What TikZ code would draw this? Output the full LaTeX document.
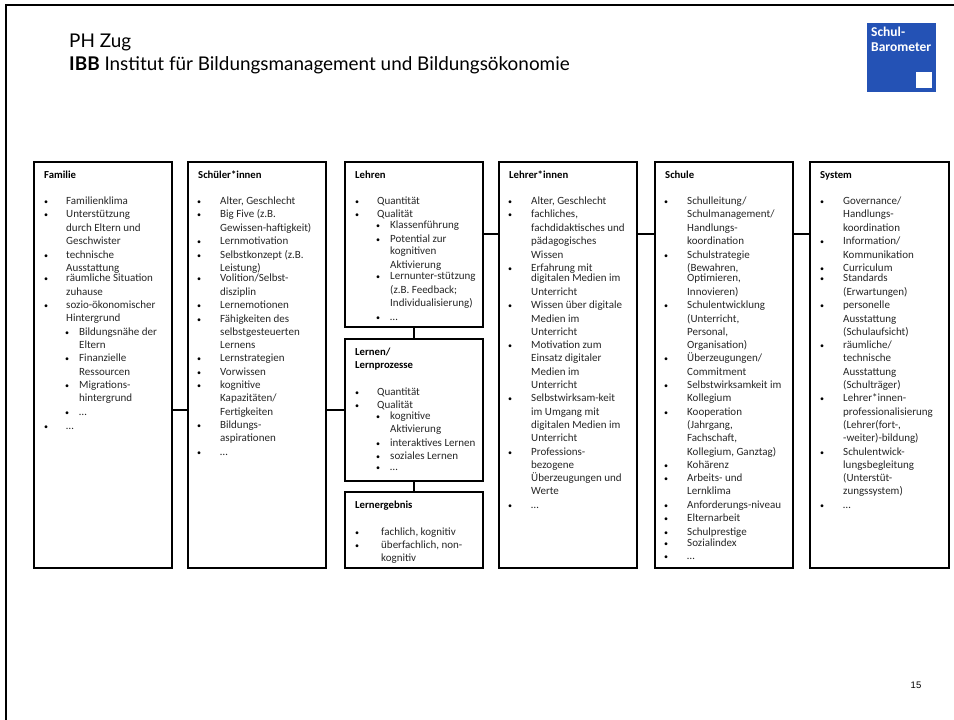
\documentclass[tikz,border=0pt]{standalone}
\usepackage{fontspec}
\setmainfont{Carlito}
\newfontfamily\headfont{Lato}
\newfontfamily\numfont{Liberation Sans}
\definecolor{logoblue}{HTML}{2452B5}
\tikzset{
  panel/.style={draw,line width=2.5pt,anchor=north west,inner sep=0,outer sep=0,fill=white},
  link/.style={line width=2.5pt},
  rowtxt/.style={anchor=west,inner sep=0,text height=7,text depth=0.5,font=\fontsize{11}{13}\selectfont,text=black!85},
  rowmark/.style={rowtxt,font=\fontsize{8}{9}\selectfont,text=black},
  rowhead/.style={rowtxt,font=\fontsize{10.7}{13}\selectfont\bfseries,text=black},
  headtxt/.style={anchor=west,inner sep=0,text height=14,text depth=4,font=\headfont\fontsize{18.9}{22}\selectfont},
  logotxt/.style={anchor=west,inner sep=0,text=white,text height=9,text depth=2.5,font=\fontsize{13.5}{15}\selectfont\bfseries},
}
\begin{document}
\begin{tikzpicture}[x=1pt,y=-1pt]
  \useasboundingbox (0,0) rectangle (954,720);

  % Slide frame and header
  \coordinate (framebl) at (6,720);
  \coordinate (frametl) at (6,5);
  \coordinate (frametr) at (954,5);
  \draw[link] (framebl) -- (frametl) -- (frametr);
  \node[headtxt] (phzug) at (69,42) {PH Zug};
  \node[headtxt] (ibb) at (69,65) {\textbf{IBB} Institut für Bildungsmanagement und Bildungsökonomie};
  \node[fill=logoblue,minimum size=69,inner sep=0,anchor=north west] (logo) at (867,23) {};
  \node[fill=white,minimum size=16,inner sep=0,anchor=south east] (logomark) at (932,88) {};
  \node[logotxt] (logoa) at (871,33) {Schul-};
  \node[logotxt] (logob) at (871,48) {Barometer};
  \node[anchor=center,inner sep=0,font=\numfont\fontsize{9.5}{11}\selectfont] (pagenr) at (916,685) {15};

  % Boxes
  \node[panel,minimum width=138,minimum height=406] (familie) at (34,162) {};
  \node[panel,minimum width=138,minimum height=406] (schueler) at (188,162) {};
  \node[panel,minimum width=138,minimum height=165] (lehren) at (345,162) {};
  \node[panel,minimum width=138,minimum height=142] (lernen) at (345,339) {};
  \node[panel,minimum width=138,minimum height=76] (ergebnis) at (345,492) {};
  \node[panel,minimum width=138,minimum height=406] (lehrer) at (499,162) {};
  \node[panel,minimum width=138,minimum height=406] (schule) at (655,162) {};
  \node[panel,minimum width=139,minimum height=406] (system) at (810,162) {};

  % Connectors
  \coordinate (linkrow) at (0,234);
  \draw[link] (familie.east |- lernen.west) -- (schueler.west |- lernen.west);
  \draw[link] (schueler.east |- lernen.west) -- (lernen.west);
  \draw[link] (lehren.south) -- (lernen.north);
  \draw[link] (lernen.south) -- (ergebnis.north);
  \draw[link] (lehren.east |- linkrow) -- (lehrer.west |- linkrow);
  \draw[link] (lehrer.east |- linkrow) -- (schule.west |- linkrow);
  \draw[link] (schule.east |- linkrow) -- (system.west |- linkrow);

  % Titles
  \node[rowhead] (familiehead) at (44,175) {Familie};
  \node[rowhead] (schuelerhead) at (198,175) {Schüler*innen};
  \node[rowhead] (lehrenhead) at (355,175) {Lehren};
  \node[rowhead] (lernenhead) at (355,352) {Lernen/};
  \node[rowhead] (lernenheadb) at (355,365) {Lernprozesse};
  \node[rowhead] (ergebnishead) at (355,505) {Lernergebnis};
  \node[rowhead] (lehrerhead) at (509,175) {Lehrer*innen};
  \node[rowhead] (schulehead) at (665,175) {Schule};
  \node[rowhead] (systemhead) at (820,175) {System};

  % Familie
  \foreach \y [count=\i] in {201,214,255,278,305,426}{%
      \node[rowmark] (familieb\i) at (44,\y) {•};}
  \foreach \y/\txt [count=\i] in {201/Familienklima,214/Unterstützung,228/durch Eltern und,241/Geschwister,255/technische,268/Ausstattung,278/räumliche Situation,292/zuhause,305/sozio-ökonomischer,318/Hintergrund,426/…}{%
      \node[rowtxt] (familiet\i) at (66,\y) {\txt};}
  \foreach \y [count=\i] in {332,358,385,412}{%
      \node[rowmark] (familiesb\i) at (65,\y) {•};}
  \foreach \y/\txt [count=\i] in {332/Bildungsnähe der,345/Eltern,358/Finanzielle,372/Ressourcen,385/Migrations-,398/hintergrund,412/…}{%
      \node[rowtxt] (families\i) at (79,\y) {\txt};}

  % Schueler
  \foreach \y [count=\i] in {201,214,241,255,278,305,319,358,372,385,425,452}{%
      \node[rowmark] (schuelerb\i) at (197,\y) {•};}
  \foreach \y/\txt [count=\i] in {201/{Alter, Geschlecht},214/Big Five (z.B.,228/Gewissen-haftigkeit),241/Lernmotivation,255/Selbstkonzept (z.B.,268/Leistung),278/{Volition/Selbst-},292/disziplin,305/Lernemotionen,319/Fähigkeiten des,332/selbstgesteuerten,345/Lernens,358/Lernstrategien,372/Vorwissen,385/kognitive,398/{Kapazitäten/},412/Fertigkeiten,425/Bildungs-,438/aspirationen,452/…}{%
      \node[rowtxt] (schuelert\i) at (220,\y) {\txt};}

  % Lehren
  \foreach \y [count=\i] in {201,214}{%
      \node[rowmark] (lehrenb\i) at (355,\y) {•};}
  \foreach \y/\txt [count=\i] in {201/Quantität,214/Qualität}{%
      \node[rowtxt] (lehrent\i) at (377,\y) {\txt};}
  \foreach \y [count=\i] in {225,239,276,317}{%
      \node[rowmark] (lehrensb\i) at (376,\y) {•};}
  \foreach \y/\txt [count=\i] in {225/Klassenführung,239/Potential zur,251/kognitiven,265/Aktivierung,276/Lernunter-stützung,290/(z.B. Feedback;,303/Individualisierung),317/…}{%
      \node[rowtxt] (lehrens\i) at (390,\y) {\txt};}

  % Lernen
  \foreach \y [count=\i] in {392,405}{%
      \node[rowmark] (lernenb\i) at (355,\y) {•};}
  \foreach \y/\txt [count=\i] in {392/Quantität,405/Qualität}{%
      \node[rowtxt] (lernent\i) at (377,\y) {\txt};}
  \foreach \y [count=\i] in {416,443,456,467}{%
      \node[rowmark] (lernensb\i) at (376,\y) {•};}
  \foreach \y/\txt [count=\i] in {416/kognitive,429/Aktivierung,443/interaktives Lernen,456/soziales Lernen,467/…}{%
      \node[rowtxt] (lernens\i) at (390,\y) {\txt};}

  % Lernergebnis
  \foreach \y [count=\i] in {532,545}{%
      \node[rowmark] (ergebnisb\i) at (355,\y) {•};}
  \foreach \y/\txt [count=\i] in {532/{fachlich, kognitiv},545/{überfachlich, non-},558/kognitiv}{%
      \node[rowtxt] (ergebnist\i) at (381,\y) {\txt};}

  % Lehrer
  \foreach \y [count=\i] in {201,214,268,305,345,398,452,505}{%
      \node[rowmark] (lehrerb\i) at (508,\y) {•};}
  \foreach \y/\txt [count=\i] in {201/{Alter, Geschlecht},214/{fachliches,},228/fachdidaktisches und,241/pädagogisches,255/Wissen,268/Erfahrung mit,278/digitalen Medien im,292/Unterricht,305/Wissen über digitale,319/Medien im,332/Unterricht,345/Motivation zum,358/Einsatz digitaler,372/Medien im,385/Unterricht,398/Selbstwirksam-keit,412/im Umgang mit,425/digitalen Medien im,438/Unterricht,452/Professions-,465/bezogene,478/Überzeugungen und,491/Werte,505/…}{%
      \node[rowtxt] (lehrert\i) at (531,\y) {\txt};}

  % Schule
  \foreach \y [count=\i] in {201,255,305,358,385,412,465,478,505,518,532,543,556}{%
      \node[rowmark] (schuleb\i) at (664,\y) {•};}
  \foreach \y/\txt [count=\i] in {201/{Schulleitung/},214/{Schulmanagement/},228/Handlungs-,241/koordination,255/Schulstrategie,268/{(Bewahren,},278/{Optimieren,},292/Innovieren),305/Schulentwicklung,319/{(Unterricht,},332/{Personal,},345/Organisation),358/{Überzeugungen/},372/Commitment,385/Selbstwirksamkeit im,398/Kollegium,412/Kooperation,425/{(Jahrgang,},438/{Fachschaft,},452/{Kollegium, Ganztag)},465/Kohärenz,478/Arbeits- und,491/Lernklima,505/Anforderungs-niveau,518/Elternarbeit,532/Schulprestige,543/Sozialindex,556/…}{%
      \node[rowtxt] (schulet\i) at (687,\y) {\txt};}

  % System
  \foreach \y [count=\i] in {201,241,268,278,305,345,398,452,505}{%
      \node[rowmark] (systemb\i) at (820,\y) {•};}
  \foreach \y/\txt [count=\i] in {201/{Governance/},214/Handlungs-,228/koordination,241/{Information/},255/Kommunikation,268/Curriculum,278/Standards,292/(Erwartungen),305/personelle,319/Ausstattung,332/(Schulaufsicht),345/{räumliche/},358/technische,372/Ausstattung,385/(Schulträger),398/Lehrer*innen-,412/professionalisierung,425/{(Lehrer(fort-,},438/-weiter)-bildung),452/Schulentwick-,465/lungsbegleitung,478/(Unterstüt-,491/zungssystem),505/…}{%
      \node[rowtxt] (systemt\i) at (843,\y) {\txt};}

\end{tikzpicture}
\end{document}
